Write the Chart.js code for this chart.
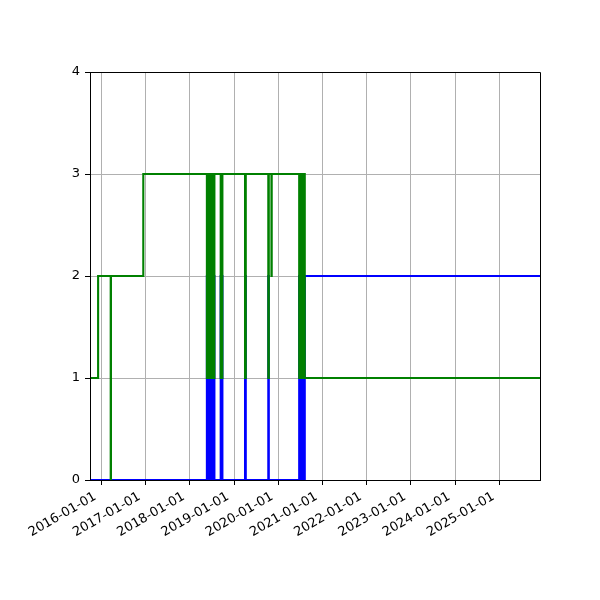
<!DOCTYPE html>
<html>
<head>
<meta charset="utf-8">
<script src="https://cdn.jsdelivr.net/npm/chart.js@4.4.1/dist/chart.umd.min.js"></script>
<style>
html,body{margin:0;padding:0;background:#fff;}
#wrap{width:600px;height:600px;position:relative;}
</style>
</head>
<body>
<div id="wrap"><canvas id="c" width="600" height="600"></canvas></div>
<script>
// ---- data ----
const xRange = ['2015-09-30', '2025-12-01'];
const tickLabels = ['2016-01-01','2017-01-01','2018-01-01','2019-01-01','2020-01-01',
                    '2021-01-01','2022-01-01','2023-01-01','2024-01-01','2025-01-01'];
const yTicks = [0, 1, 2, 3, 4];

const greenDates = [
  '2015-09-30','2015-12-06','2016-03-19','2016-03-21','2016-12-13',
  '2018-05-22','2018-05-26','2018-05-30','2018-06-03','2018-06-07','2018-06-11','2018-06-15','2018-06-19',
  '2018-06-23','2018-06-27','2018-07-01','2018-07-05','2018-07-09','2018-07-13','2018-07-18','2018-07-23',
  '2018-09-13','2018-09-15','2018-09-25','2018-09-27',
  '2019-04-02','2019-04-08',
  '2019-10-11','2019-10-15',
  '2019-11-06','2019-11-08',
  '2020-06-22','2020-06-26','2020-06-30','2020-07-04','2020-07-08','2020-07-12','2020-07-16','2020-07-20',
  '2020-07-24','2020-07-28','2020-08-01','2020-08-04','2020-08-07',
  '2025-12-01'
];
const greenValues = [
  1, 2, 0, 2, 3,
  1, 3, 1, 3, 1, 3, 1, 3,
  1, 3, 1, 3, 1, 3, 1, 3,
  1, 3, 1, 3,
  1, 3,
  1, 3,
  2, 3,
  1, 3, 1, 3, 1, 3, 1, 3,
  1, 3, 1, 3, 1,
  1
];

const blueDates = [
  '2015-09-30',
  '2018-05-22','2018-05-26','2018-05-30','2018-06-03','2018-06-07','2018-06-11','2018-06-15','2018-06-19',
  '2018-06-23','2018-06-27','2018-07-01','2018-07-05','2018-07-09','2018-07-13','2018-07-18','2018-07-23',
  '2018-09-13','2018-09-15','2018-09-25','2018-09-27',
  '2019-04-02','2019-04-08',
  '2019-10-11','2019-10-15',
  '2020-06-22','2020-06-26','2020-06-30','2020-07-04','2020-07-08','2020-07-12','2020-07-16','2020-07-20',
  '2020-07-24','2020-07-28','2020-08-01','2020-08-04','2020-08-07',
  '2025-12-01'
];
const blueValues = [
  0,
  2, 0, 2, 0, 2, 0, 2, 0,
  2, 0, 2, 0, 2, 0, 2, 0,
  2, 0, 2, 0,
  2, 0,
  2, 0,
  2, 0, 2, 0, 2, 0, 2, 0,
  2, 0, 2, 0, 2,
  2
];

// ---- build ----
const toMs = s => Date.parse(s + 'T00:00:00Z');
const pts = (d, v) => d.map((s, i) => ({x: toMs(s), y: v[i]}));

const FONT = {family: 'DejaVu Sans', size: 13};

const boxPlugin = {
  id: 'box',
  beforeDraw(chart) {
    const ctx = chart.ctx;
    ctx.save(); ctx.fillStyle = '#fff'; ctx.fillRect(0, 0, chart.width, chart.height); ctx.restore();
  },
  afterDatasetsDraw(chart) {
    const a = chart.chartArea, ctx = chart.ctx;
    const l = Math.round(a.left) + 0.5, t = Math.round(a.top) + 0.5;
    const r = Math.round(a.right) + 0.5, b = Math.round(a.bottom) + 0.5;
    ctx.save();
    ctx.strokeStyle = '#000'; ctx.lineWidth = 1;
    ctx.beginPath();
    ctx.moveTo(l, b); ctx.lineTo(l, t); ctx.lineTo(r, t); ctx.lineTo(r, b); ctx.lineTo(l, b);
    ctx.stroke();
    ctx.restore();
  }
};

new Chart(document.getElementById('c'), {
  type: 'line',
  data: {
    datasets: [
      {data: pts(greenDates, greenValues), borderColor: '#008000', borderWidth: 2.1,
       pointRadius: 0, stepped: 'before', fill: false, order: 0, borderJoinStyle: 'miter'},
      {data: pts(blueDates, blueValues), borderColor: '#0000ff', borderWidth: 2.1,
       pointRadius: 0, stepped: 'before', fill: false, order: 1, borderJoinStyle: 'miter'}
    ]
  },
  options: {
    responsive: false,
    animation: false,
    devicePixelRatio: 1,
    layout: {padding: {left: 0, top: 72, right: 60, bottom: 0}},
    plugins: {legend: {display: false}, tooltip: {enabled: false}},
    scales: {
      x: {
        type: 'linear',
        min: toMs(xRange[0]),
        max: toMs(xRange[1]),
        afterBuildTicks: s => { s.ticks = tickLabels.map(t => ({value: toMs(t)})); },
        afterFit: s => { s.height = 120; },
        grid: {color: '#b0b0b0', lineWidth: 1, tickColor: '#000', tickLength: 5, tickWidth: 1},
        border: {display: true, color: '#000', width: 1},
        ticks: {
          autoSkip: false, minRotation: 30, maxRotation: 30, padding: 4, color: '#000', font: FONT,
          labelOffset: -6,
          callback: (v, i) => tickLabels[i]
        }
      },
      y: {
        type: 'linear',
        min: yTicks[0],
        max: yTicks[yTicks.length - 1],
        afterBuildTicks: s => { s.ticks = yTicks.map(t => ({value: t})); },
        afterFit: s => { s.width = 90; },
        grid: {color: '#b0b0b0', lineWidth: 1, tickColor: '#000', tickLength: 5, tickWidth: 1},
        border: {display: true, color: '#000', width: 1},
        ticks: {padding: 5, color: '#000', font: FONT, callback: v => String(v)}
      }
    }
  },
  plugins: [boxPlugin]
});
</script>
</body>
</html>
